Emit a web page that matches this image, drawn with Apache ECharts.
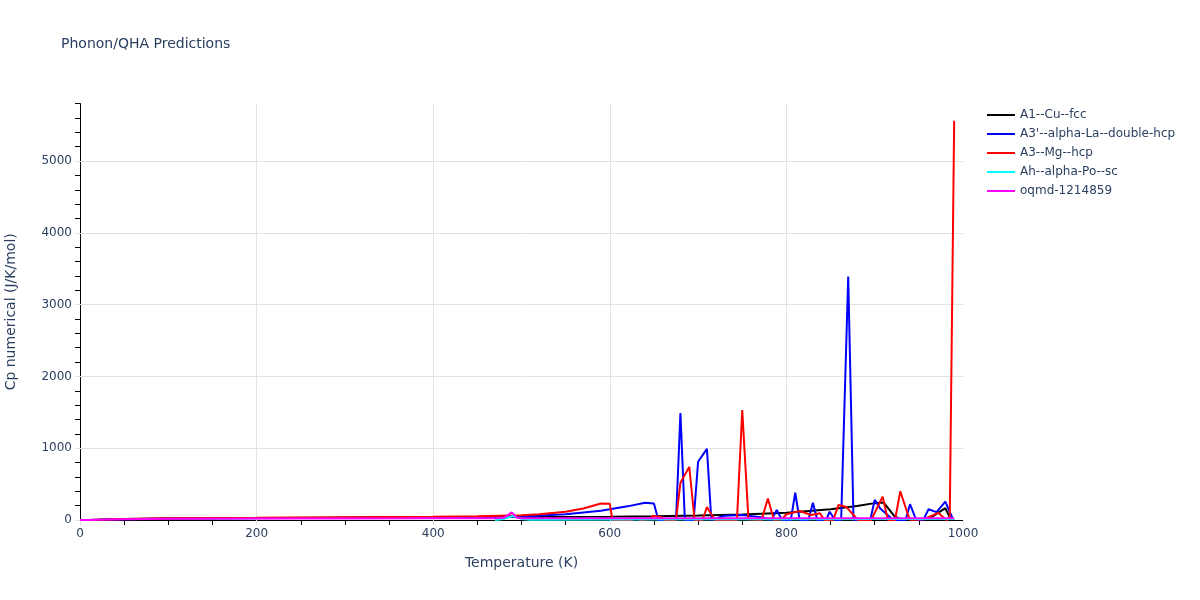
<!DOCTYPE html>
<html>
<head>
<meta charset="utf-8">
<script src="https://cdn.jsdelivr.net/npm/echarts@6/dist/echarts.min.js"></script>
<style>html,body{margin:0;padding:0;background:#fff}#c{width:1200px;height:600px}</style>
</head>
<body>
<div id="c"></div>
<script>
// ---- data (temperature K, Cp J/K/mol) ----
var seriesNames = ["A1--Cu--fcc", "A3'--alpha-La--double-hcp", "A3--Mg--hcp", "Ah--alpha-Po--sc", "oqmd-1214859"];
var seriesColors = ["#000000", "#0000ff", "#ff0000", "#00ffff", "#ff00ff"];

var cuFcc = [[0,0],[10,1],[20,4],[30,8],[50,14],[75,19],[100,22],[150,26],[200,28],[300,32],[400,36],[500,41],[600,47],[650,52],[700,62],[750,75],[800,100],[850,150],[880,195],[900,235],[910,245],[923,45],[930,10],[960,5],[980,165],[986,10],[990,0]];

var laDhcp = [[0,0],[10,1],[20,4],[50,12],[100,20],[200,26],[300,32],[400,38],[450,42],[500,50],[550,80],[590,130],[600,150],[620,190],[640,240],[650,230],[655,0],[675,0],[680,1490],[685,0],[695,0],[700,812],[710,990],[715,0],[730,60],[750,70],[775,30],[783,0],[789,140],[795,0],[805,0],[810,380],[815,0],[825,0],[830,240],[835,0],[845,0],[849,115],[855,0],[862,0],[870,3390],[876,0],[895,0],[900,280],[906,165],[921,0],[935,0],[940,220],[947,0],[955,0],[961,150],[970,110],[980,255],[989,0]];

var mgHcp = [[0,0],[10,1],[20,4],[50,14],[100,24],[200,30],[300,38],[400,46],[450,52],[500,65],[520,80],[550,115],[570,160],[590,230],[600,225],[603,0],[625,0],[630,30],[635,0],[645,10],[649,60],[659,40],[662,0],[675,0],[680,520],[690,740],[696,0],[705,0],[710,180],[719,0],[744,0],[750,1530],[757,10],[772,0],[779,300],[786,0],[795,10],[800,80],[815,125],[828,70],[838,95],[843,0],[853,0],[859,210],[868,180],[881,0],[896,0],[909,325],[915,0],[923,0],[929,400],[938,60],[941,0],[955,10],[959,30],[972,100],[981,0],[985,20],[990,5560]];

var poSc = [[470,0],[480,15],[490,55],[500,15],[510,5],[600,8],[700,10],[800,12],[900,14],[990,15]];

var oqmd = [[0,0],[10,1],[30,6],[50,12],[100,18],[200,20],[300,22],[400,24],[470,25],[480,30],[489,107],[495,30],[500,25],[600,25],[700,25],[800,25],[900,25],[990,25]];

var allData = [cuFcc, laDhcp, mgHcp, poSc, oqmd];

var xTickLabels = [0, 200, 400, 600, 800, 1000];
var yTickLabels = [0, 1000, 2000, 3000, 4000, 5000];

var font = "'DejaVu Sans', Verdana, sans-serif";
var txt = "#2a3f5f";
var gridCol = "#e2e2e2";

var chart = echarts.init(document.getElementById('c'), null, {renderer: 'canvas'});
var series = allData.map(function (d, i) {
  return {
    name: seriesNames[i], type: 'line', data: d, yAxisIndex: 0,
    showSymbol: false, symbol: 'none',
    lineStyle: {width: 2, color: seriesColors[i]},
    itemStyle: {color: seriesColors[i]},
    emphasis: {disabled: true}
  };
});

chart.setOption({
  animation: false,
  backgroundColor: '#ffffff',
  textStyle: {fontFamily: font},
  title: {
    text: 'Phonon/QHA Predictions', left: 61, top: 37, padding: 0,
    textStyle: {fontFamily: font, fontSize: 14, fontWeight: 'normal', color: txt}
  },
  legend: {
    orient: 'vertical', left: 987, top: 108, padding: 0, itemGap: 5,
    itemWidth: 28, itemHeight: 2, icon: 'rect', itemTextGap: 6,
    data: seriesNames,
    textStyle: {fontFamily: font, fontSize: 12, color: txt, lineHeight: 14}
  },
  grid: {left: 80, right: 237, top: 103.6, bottom: 80, containLabel: false, outerBoundsMode: 'none'},
  xAxis: {
    type: 'value', min: 0, max: 1000, interval: 200,
    name: 'Temperature (K)', nameLocation: 'middle', nameGap: 36,
    nameTextStyle: {fontFamily: font, fontSize: 14, color: txt},
    axisLine: {show: true, lineStyle: {color: '#000', width: 1}},
    axisTick: {show: true, length: 5, lineStyle: {color: gridCol, width: 1}},
    minorTick: {show: true, splitNumber: 4, length: 5, lineStyle: {color: '#000', width: 1}},
    axisLabel: {fontFamily: font, fontSize: 12, color: txt, margin: 8,
      formatter: function (v) { return xTickLabels.indexOf(v) >= 0 ? String(v) : ''; }},
    splitLine: {show: true, showMinLine: false, showMaxLine: false, lineStyle: {color: gridCol, width: 1}}
  },
  yAxis: [{
    type: 'value', min: 0, max: 5800, interval: 1000, z: 2,
    name: 'Cp numerical (J/K/mol)', nameLocation: 'middle', nameGap: 62,
    nameTextStyle: {fontFamily: font, fontSize: 14, color: txt},
    axisLine: {show: false},
    axisTick: {show: true, length: 5, lineStyle: {color: gridCol, width: 1}},
    axisLabel: {fontFamily: font, fontSize: 12, color: txt, margin: 8, showMaxLabel: false,
      formatter: function (v) { return yTickLabels.indexOf(v) >= 0 ? String(v) : ''; }},
    splitLine: {show: true, showMinLine: false, showMaxLine: false, lineStyle: {color: gridCol, width: 1}}
  }, {
    type: 'value', min: 0, max: 5800, interval: 200, position: 'left', offset: 0, z: 1,
    axisLine: {show: true, lineStyle: {color: '#000', width: 1}},
    axisTick: {show: true, length: 5, lineStyle: {color: '#000', width: 1}},
    axisLabel: {show: false},
    splitLine: {show: false}
  }],
  series: series
});
</script>
</body>
</html>
